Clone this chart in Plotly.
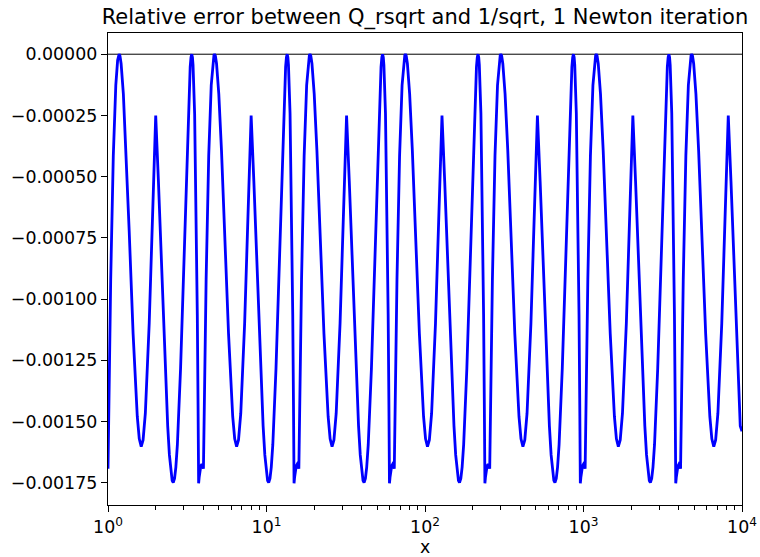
import plotly.graph_objects as go

# ---- data ----
# x positions, one list per repetition of the error pattern (factor 4 in x each)
X_CYCLE_0 = [1.0, 1.04, 1.08, 1.12, 1.15, 1.165, 1.1755, 1.19, 1.21, 1.25, 1.3, 1.36, 1.44, 1.53, 1.575,
             1.62, 1.665, 1.72, 1.82, 1.91, 2.0, 2.08, 2.16, 2.26, 2.38, 2.44, 2.5, 2.54, 2.58, 2.63,
             2.68, 2.74, 2.87, 3.01, 3.14, 3.25, 3.3, 3.34, 3.375, 3.41, 3.44, 3.52, 3.6, 3.66, 3.7,
             3.73, 3.76, 3.85, 3.91, 3.96]
X_CYCLE_1 = [4.0, 4.16, 4.32, 4.48, 4.6, 4.66, 4.702, 4.76, 4.84, 5.0, 5.2, 5.44, 5.76, 6.12, 6.3,
             6.48, 6.66, 6.88, 7.28, 7.64, 8.0, 8.32, 8.64, 9.04, 9.52, 9.76, 10.0, 10.16, 10.32, 10.52,
             10.72, 10.96, 11.48, 12.04, 12.56, 13.0, 13.2, 13.36, 13.5, 13.64, 13.76, 14.08, 14.4, 14.64, 14.8,
             14.92, 15.04, 15.4, 15.64, 15.84]
X_CYCLE_2 = [16.0, 16.64, 17.28, 17.92, 18.4, 18.64, 18.808, 19.04, 19.36, 20.0, 20.8, 21.76, 23.04, 24.48, 25.2,
             25.92, 26.64, 27.52, 29.12, 30.56, 32.0, 33.28, 34.56, 36.16, 38.08, 39.04, 40.0, 40.64, 41.28, 42.08,
             42.88, 43.84, 45.92, 48.16, 50.24, 52.0, 52.8, 53.44, 54.0, 54.56, 55.04, 56.32, 57.6, 58.56, 59.2,
             59.68, 60.16, 61.6, 62.56, 63.36]
X_CYCLE_3 = [64.0, 66.56, 69.12, 71.68, 73.6, 74.56, 75.232, 76.16, 77.44, 80.0, 83.2, 87.04, 92.16, 97.92, 100.8,
             103.68, 106.56, 110.08, 116.48, 122.24, 128.0, 133.12, 138.24, 144.64, 152.32, 156.16, 160.0, 162.56, 165.12, 168.32,
             171.52, 175.36, 183.68, 192.64, 200.96, 208.0, 211.2, 213.76, 216.0, 218.24, 220.16, 225.28, 230.4, 234.24, 236.8,
             238.72, 240.64, 246.4, 250.24, 253.44]
X_CYCLE_4 = [256.0, 266.24, 276.48, 286.72, 294.4, 298.24, 300.928, 304.64, 309.76, 320.0, 332.8, 348.16, 368.64, 391.68, 403.2,
             414.72, 426.24, 440.32, 465.92, 488.96, 512.0, 532.48, 552.96, 578.56, 609.28, 624.64, 640.0, 650.24, 660.48, 673.28,
             686.08, 701.44, 734.72, 770.56, 803.84, 832.0, 844.8, 855.04, 864.0, 872.96, 880.64, 901.12, 921.6, 936.96, 947.2,
             954.88, 962.56, 985.6, 1000.96, 1013.76]
X_CYCLE_5 = [1024.0, 1064.96, 1105.92, 1146.88, 1177.6, 1192.96, 1203.712, 1218.56, 1239.04, 1280.0, 1331.2, 1392.64, 1474.56, 1566.72, 1612.8,
             1658.88, 1704.96, 1761.28, 1863.68, 1955.84, 2048.0, 2129.92, 2211.84, 2314.24, 2437.12, 2498.56, 2560.0, 2600.96, 2641.92, 2693.12,
             2744.32, 2805.76, 2938.88, 3082.24, 3215.36, 3328.0, 3379.2, 3420.16, 3456.0, 3491.84, 3522.56, 3604.48, 3686.4, 3747.84, 3788.8,
             3819.52, 3850.24, 3942.4, 4003.84, 4055.04]
X_CYCLE_6 = [4096.0, 4259.84, 4423.68, 4587.52, 4710.4, 4771.84, 4814.848, 4874.24, 4956.16, 5120.0, 5324.8, 5570.56, 5898.24, 6266.88, 6451.2,
             6635.52, 6819.84, 7045.12, 7454.72, 7823.36, 8192.0, 8519.68, 8847.36, 9256.96, 9748.48, 10000.0]

# relative error values (same pattern in every cycle)
ERR_CYCLE = [-1.6928e-3, -0.9185e-3, -0.4143e-3, -0.1267e-3, -0.0248e-3, -0.0040e-3, 0.0, -0.0073e-3, -0.0388e-3, -0.1623e-3,
             -0.3929e-3, -0.7202e-3, -1.1413e-3, -1.4794e-3, -1.5709e-3, -1.6024e-3, -1.5753e-3, -1.4672e-3, -1.0980e-3, -0.6613e-3,
             -0.2507e-3, -0.5176e-3, -0.8153e-3, -1.1741e-3, -1.5179e-3, -1.6363e-3, -1.7140e-3, -1.7413e-3, -1.7496e-3, -1.7323e-3,
             -1.6862e-3, -1.5948e-3, -1.2835e-3, -0.8384e-3, -0.4169e-3, -0.1355e-3, -0.0517e-3, -0.0119e-3, 0.0, -0.0125e-3,
             -0.0447e-3, -0.2422e-3, -0.6292e-3, -1.0654e-3, -1.4344e-3, -1.7523e-3, -1.7278e-3, -1.6819e-3, -1.6739e-3, -1.6797e-3]
ERR_LAST = [-1.6928e-3, -0.9185e-3, -0.4143e-3, -0.1267e-3, -0.0248e-3, -0.0040e-3, 0.0, -0.0073e-3, -0.0388e-3, -0.1623e-3,
            -0.3929e-3, -0.7202e-3, -1.1413e-3, -1.4794e-3, -1.5709e-3, -1.6024e-3, -1.5753e-3, -1.4672e-3, -1.0980e-3, -0.6613e-3,
            -0.2507e-3, -0.5176e-3, -0.8153e-3, -1.1741e-3, -1.5179e-3, -1.5400e-3]

X_TICKS = [1, 10, 100, 1000, 10000]
X_TICK_TEXT = ["10<sup>0</sup>", "10<sup>1</sup>", "10<sup>2</sup>", "10<sup>3</sup>", "10<sup>4</sup>"]
X_MINOR = [2, 3, 4, 5, 6, 7, 8, 9, 20, 30, 40, 50, 60, 70, 80, 90,
           200, 300, 400, 500, 600, 700, 800, 900, 2000, 3000, 4000, 5000, 6000, 7000, 8000, 9000]
Y_TICKS = [0.0, -0.00025, -0.0005, -0.00075, -0.001, -0.00125, -0.0015, -0.00175]
ZERO_LINE = 0.0

TITLE = "Relative error between Q_rsqrt and 1/sqrt, 1 Newton iteration"
X_LABEL = "x"

x_all = X_CYCLE_0 + X_CYCLE_1 + X_CYCLE_2 + X_CYCLE_3 + X_CYCLE_4 + X_CYCLE_5 + X_CYCLE_6
y_all = ERR_CYCLE + ERR_CYCLE + ERR_CYCLE + ERR_CYCLE + ERR_CYCLE + ERR_CYCLE + ERR_LAST

FONT = "DejaVu Sans"

fig = go.Figure()
fig.add_trace(go.Scatter(x=x_all, y=y_all, mode="lines",
                         line=dict(color="#0000ff", width=2.8), hoverinfo="skip"))

fig.add_shape(type="line", xref="paper", x0=0, x1=1, yref="y", y0=ZERO_LINE, y1=ZERO_LINE,
              line=dict(color="black", width=1), layer="below")

# x-axis label placed just below the tick labels
fig.add_annotation(text=X_LABEL, xref="paper", x=0.5, yref="paper", y=-0.088,
                   xanchor="center", yanchor="middle", showarrow=False,
                   font=dict(family=FONT, size=17.4, color="black"))

axis_common = dict(showline=True, mirror=True, linecolor="black", linewidth=1.4,
                   ticks="outside", ticklen=6, tickwidth=1.4, tickcolor="black",
                   showgrid=False, zeroline=False,
                   tickfont=dict(family=FONT, size=17.4, color="black"))

fig.update_layout(
    width=760, height=557,
    margin=dict(l=108, r=18, t=33, b=52),
    paper_bgcolor="white", plot_bgcolor="white",
    showlegend=False,
    font=dict(family=FONT, color="black"),
    title=dict(text=TITLE, x=0.5, xref="paper", xanchor="center",
               y=0.97, yref="container", yanchor="middle",
               font=dict(family=FONT, size=21, color="black")),
    xaxis=dict(type="log", range=[0, 4], tickvals=X_TICKS, ticktext=X_TICK_TEXT,
               minor=dict(ticks="outside", ticklen=3.5, tickwidth=1, tickcolor="black", tickvals=X_MINOR),
               automargin=False, **axis_common),
    yaxis=dict(range=[-0.001841, 0.0000866], tickvals=Y_TICKS, tickformat=".5f",
               automargin=False, **axis_common),
)

fig.write_html("out.html", config={"displayModeBar": False},
               post_script="document.body.style.margin='0';document.body.style.padding='0';")
